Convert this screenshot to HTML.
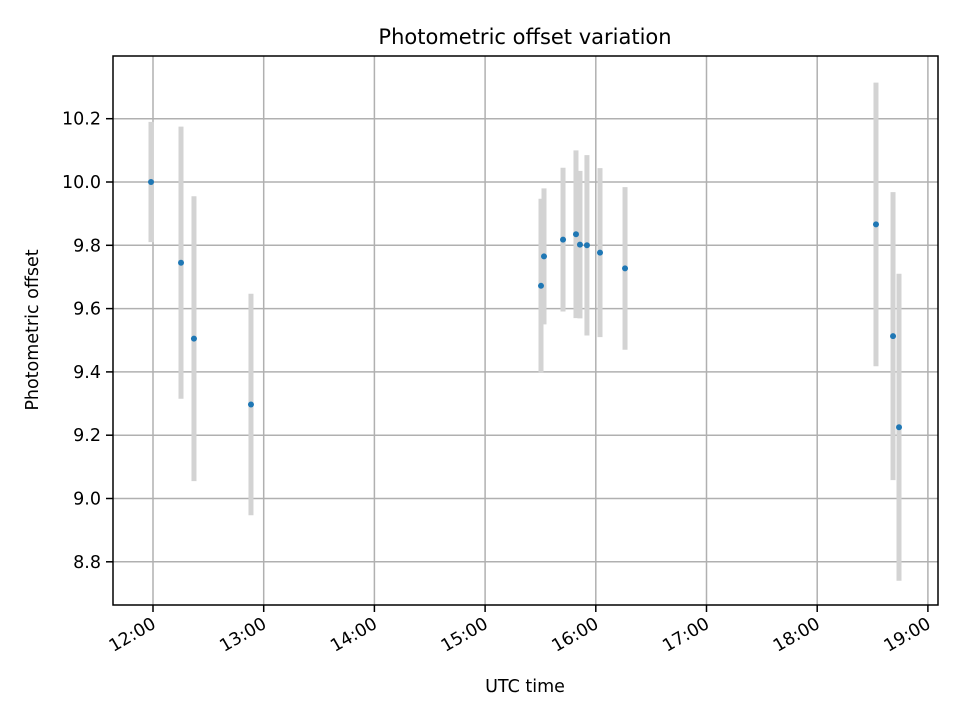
<!DOCTYPE html>
<html><head><meta charset="utf-8"><style>
body{margin:0;background:#fff;}
svg text{font-family:"DejaVu Sans","Liberation Sans",sans-serif;fill:#000;}
</style></head><body>
<svg id="chart" width="960" height="720" xmlns="http://www.w3.org/2000/svg">
<rect width="960" height="720" fill="#fff"/>
<g id="grid"></g>
<g id="bars"></g>
<g id="pts"></g>
<rect x="113" y="56" width="825" height="549" fill="none" stroke="#000" stroke-width="1.5"/>
<g id="ticks"></g>
<text x="525" y="44" style="font-size:21px" text-anchor="middle">Photometric offset variation</text>
<text x="525" y="692" style="font-size:17.5px" text-anchor="middle">UTC time</text>
<text transform="translate(38,330) rotate(-90)" style="font-size:17.5px" text-anchor="middle">Photometric offset</text>
</svg>
<script>
const times=[11.982,12.253,12.370,12.885,15.505,15.532,15.704,15.821,15.857,15.920,16.038,16.264,18.531,18.685,18.739];
const values=[10.0,9.745,9.505,9.297,9.672,9.765,9.818,9.835,9.802,9.80,9.777,9.727,9.866,9.513,9.225];
const errors=[0.19,0.43,0.45,0.35,0.275,0.215,0.227,0.265,0.233,0.285,0.267,0.257,0.448,0.455,0.485];
const xTicks=[12,13,14,15,16,17,18,19];
const xTickLabels=["12:00","13:00","14:00","15:00","16:00","17:00","18:00","19:00"];
const yTicks=[8.8,9.0,9.2,9.4,9.6,9.8,10.0,10.2];
const NS="http://www.w3.org/2000/svg";
const X=h=>153+(h-12)*110.7;
const Y=v=>182-(v-10)*316.5;
function mk(tag,attrs,parent){const e=document.createElementNS(NS,tag);for(const k in attrs)e.setAttribute(k,attrs[k]);document.getElementById(parent).appendChild(e);return e;}
xTicks.forEach((t,i)=>{
  const x=X(t);
  const g=mk('line',{x1:x,x2:x,y1:56,y2:605,stroke:'#b0b0b0','stroke-width':1.5},'grid');
  
  
  const tk=mk('line',{x1:x,x2:x,y1:605,y2:612,stroke:'#000','stroke-width':1.5},'ticks');
  
  
  const tx=mk('text',{transform:`translate(${x+4},${627}) rotate(-30)`,style:'font-size:17.5px','text-anchor':'end'},'ticks');
  tx.textContent=xTickLabels[i];
  
  
});
yTicks.forEach(v=>{
  const y=Y(v);
  const g=mk('line',{x1:113,x2:938,y1:y,y2:y,stroke:'#b0b0b0','stroke-width':1.5},'grid');
  
  
  const tk=mk('line',{x1:106,x2:113,y1:y,y2:y,stroke:'#000','stroke-width':1.5},'ticks');
  
  
  const tx=mk('text',{x:101,y:y+6,style:'font-size:17.5px','text-anchor':'end'},'ticks');
  tx.textContent=v.toFixed(1);
  
  
});
times.forEach((t,i)=>{
  const x=X(t);
  const b=mk('line',{x1:x,x2:x,y1:Y(values[i]+errors[i]),y2:Y(values[i]-errors[i]),stroke:'#d3d3d3','stroke-width':5},'bars');
  
  
  const c=mk('circle',{cx:x,cy:Y(values[i]),r:3,fill:'#1f77b4'},'pts');
  
  
});
</script>
</body></html>
